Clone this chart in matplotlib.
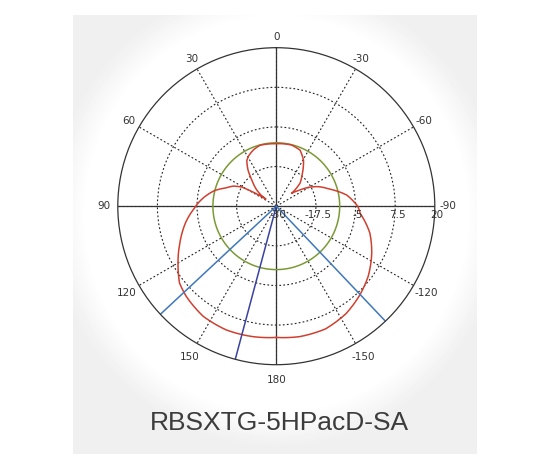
import numpy as np
import matplotlib
matplotlib.use('Agg')
import matplotlib.pyplot as plt
from matplotlib.transforms import offset_copy

# chart data
title = 'RBSXTG-5HPacD-SA'
angle_ticks = [0, 30, 60, 90, 120, 150, 180, -150, -120, -90, -60, -30]
r_ticks = [-30, -17.5, -5, 7.5, 20]
r_tick_labels = ['-30', '-17.5', '-5', '7.5', '20']

# radiation pattern (red), degrees ccw from top, dB
pattern_deg = [-180, -170, -158, -147, -137, -127.5, -116, -106, -95, -90,
               -81, -72.5, -65, -59.5, -55.5, -50, -49, -46, -38.5, -30.5,
               -23, -14, -5, 0, 8, 15, 22, 29, 33, 38,
               43, 50, 54, 55.5, 57, 59, 61, 65, 70, 76,
               83, 88, 90, 100, 111, 120, 128.5, 135, 146.5, 158,
               170, 180]
pattern_db = [11.4, 11.8, 11.7, 10.4, 8.5, 6.5, 3.5, 0.7, -3.4, -4.3,
              -7.5, -12.2, -15.4, -18.3, -20.9, -23.7, -22.2, -19.6, -16.8, -13.1,
              -10.8, -10.1, -10.2, -10.3, -10.2, -10.1, -10.8, -11.9, -12.9, -15.5,
              -18.7, -21.8, -24.0, -26.0, -24.0, -21.0, -17.5, -15.0, -13.1, -9.8,
              -7.0, -5.2, -4.6, -1.0, 2.6, 5.8, 9.0, 10.2, 11.7, 12.1,
              11.8, 11.4]

ref_level_db = -10          # green reference circle
marker_deg = [133, 165, -136.5]   # blue marker lines
marker_colors = ['#3f78b9', '#3a42a0', '#3f78b9']

W, H = 550, 468
fig = plt.figure(figsize=(W / 100, H / 100), dpi=100)
fig.patch.set_facecolor('white')

# light gray panel with a soft white halo behind the plot
bg = fig.add_axes([0, 0, 1, 1], zorder=-5)
yy, xx = np.mgrid[0:H, 0:W]
dist = np.hypot(xx - 276, (yy - 214) * 0.97)
img = 0.94 + (1 - 0.94) * np.clip((225 - dist) / 35, 0, 1)
panel = (xx >= 73) & (xx <= 476) & (yy >= 15) & (yy <= 453)
img = np.where(panel, img, 1.0)
bg.imshow(img, cmap='gray', vmin=0, vmax=1, extent=[0, W, H, 0], aspect='auto')
bg.axis('off')

cx, cy, R = 276.3, 206.2, 158.5
ax = fig.add_axes([(cx - R) / W, (H - cy - R) / H, 2 * R / W, 2 * R / H],
                  projection='polar')
ax.set_theta_zero_location('N')
ax.set_theta_direction(1)
ax.set_ylim(r_ticks[0], r_ticks[-1])
ax.set_facecolor('white')

dot = (0, (1.6, 2.0))
ax.set_thetagrids(np.mod(angle_ticks, 360), labels=[''] * len(angle_ticks))
ax.set_yticks(r_ticks[1:-1])
ax.set_yticklabels([])
ax.grid(True, linestyle=dot, color='#222222', lw=0.8)
ax.tick_params(length=0)
ax.spines['polar'].set_color('#333333')
ax.spines['polar'].set_linewidth(0.9)

# angle labels, centred a little outside the rim
for a in angle_ticks:
    t = np.deg2rad(a)
    off = 13.4 - 2.2 * np.cos(t)
    tr = offset_copy(ax.transData, fig=fig, x=-off * np.sin(t), y=off * np.cos(t),
                     units='dots')
    ax.text(t, r_ticks[-1], str(a), transform=tr, ha='center', va='center',
            fontsize=7.5, color='#333333', clip_on=False)

# solid main axes
for a in [0, 90, 180, 270]:
    t = np.deg2rad(a)
    ax.plot([t, t], [r_ticks[0], r_ticks[-1]], color='#333333', lw=0.9)

# radial labels under the right horizontal axis
lab_tr = offset_copy(ax.transData, fig=fig, x=1.5, y=-3, units='points')
for r, s in zip(r_ticks, r_tick_labels):
    ax.text(np.deg2rad(-90), r, s, transform=lab_tr, ha='center', va='top',
            fontsize=7.5, color='#333333')

# reference circle
th = np.linspace(0, 2 * np.pi, 361)
ax.plot(th, np.full_like(th, ref_level_db), color='#7b9a36', lw=1.1)

# pattern, segments follow the polar grid instead of straight chords
ln, = ax.plot(np.deg2rad(pattern_deg), pattern_db, color='#cf4030', lw=1.1)
ln.get_path()._interpolation_steps = 12

# marker lines
for a, c in zip(marker_deg, marker_colors):
    ax.plot([np.deg2rad(a)] * 2, [r_ticks[0], r_ticks[-1]], color=c, lw=1.1)

ax.set_ylim(r_ticks[0], r_ticks[-1])

fig.text(279 / W, 1 - 423 / H, title, ha='center', va='center', fontsize=19,
         family='Liberation Sans', color='#3c3c3c')

fig.savefig('out.png', dpi=100)
